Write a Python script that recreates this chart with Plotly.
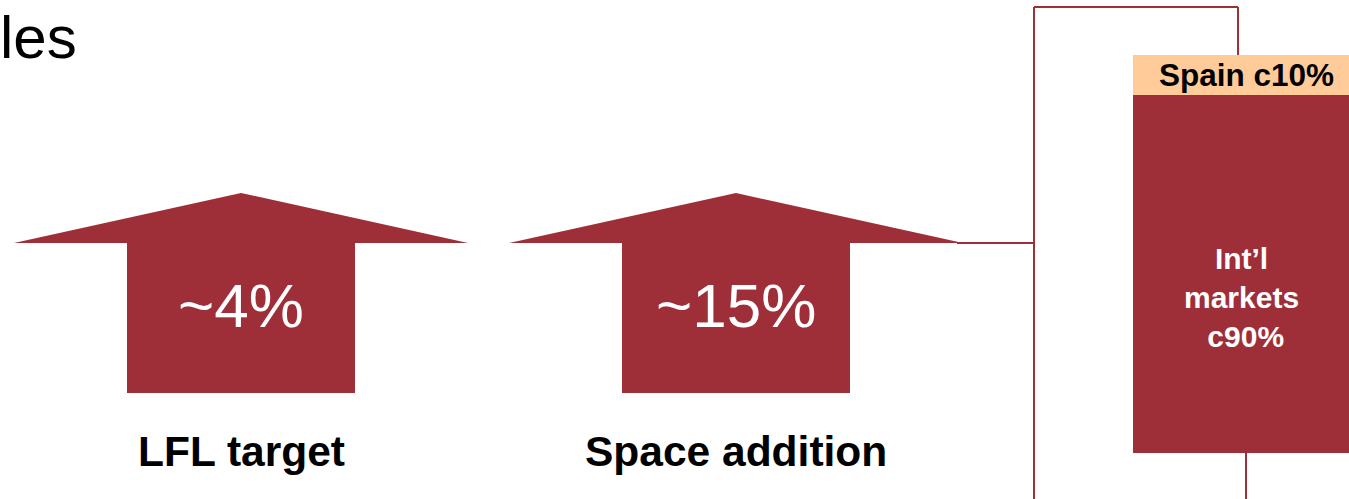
import plotly.graph_objects as go

# Growth drivers shown as up-arrows
drivers = ["LFL target", "Space addition"]
growth_labels = ["~4%", "~15%"]

# Sales split by region (stacked bar, %)
regions = ["Int'l markets", "Spain"]
region_shares = [90, 10]
region_labels = ["Int\u2019l<br>markets<br> c90%", "Spain c10%"]

heading = "les"

W, H = 1349, 499
RED = "#9E2E37"
PEACH = "#FFCC99"
FONT = "Liberation Sans, Arial, Helvetica, sans-serif"

# layout of the arrow glyphs (pixel space of the main axes)
arrow_cx = [241, 736]
head_half, shaft_half = 227, 114
tip_y, base_y, bottom_y = 193, 243, 393

fig = go.Figure()

# invisible trace so the pixel-space axes exist
fig.add_trace(go.Scatter(x=[0, W], y=[0, H], mode="markers",
                         marker=dict(opacity=0), hoverinfo="skip",
                         showlegend=False, xaxis="x", yaxis="y"))

# stacked sales-split bar
for name, share, color in zip(regions, region_shares, [RED, PEACH]):
    fig.add_trace(go.Bar(x=["Sales"], y=[share], name=name, width=1,
                         marker=dict(color=color, line=dict(width=0)),
                         hoverinfo="skip", showlegend=False,
                         xaxis="x2", yaxis="y2"))

shapes = []
annotations = []

for cx, lab, drv in zip(arrow_cx, growth_labels, drivers):
    path = (f"M{cx - head_half},{base_y} L{cx},{tip_y} L{cx + head_half},{base_y} "
            f"L{cx + shaft_half},{base_y} L{cx + shaft_half},{bottom_y} "
            f"L{cx - shaft_half},{bottom_y} L{cx - shaft_half},{base_y} Z")
    shapes.append(dict(type="path", path=path, xref="x", yref="y",
                       fillcolor=RED, line=dict(width=0), layer="above"))
    annotations.append(dict(x=cx, y=305, xref="x", yref="y", text=lab,
                            showarrow=False, xanchor="center", yanchor="middle",
                            font=dict(family=FONT, size=62, color="white")))
    annotations.append(dict(x=cx, y=451, xref="x", yref="y", text=f"<b>{drv}</b>",
                            showarrow=False, xanchor="center", yanchor="middle",
                            font=dict(family=FONT, size=42.5, color="black")))

# bracket connecting the growth arrows to the split bar
bracket = [
    (957, 243, 1034, 243),
    (1034, 7, 1034, H),
    (1034, 7, 1238, 7),
    (1238, 7, 1238, 55),
    (1246, 453, 1246, H),
]
for x0, y0, x1, y1 in bracket:
    shapes.append(dict(type="line", x0=x0, y0=y0, x1=x1, y1=y1,
                       xref="x", yref="y", line=dict(color=RED, width=2)))

# labels on the split bar
annotations.append(dict(x=0, y=95, xref="x2", yref="y2", text=f"<b>{region_labels[1]}</b>",
                        showarrow=False, xanchor="center", yanchor="middle", xshift=5,
                        font=dict(family=FONT, size=31.5, color="black")))
annotations.append(dict(x=0, y=39, xref="x2", yref="y2", text=f"<b>{region_labels[0]}</b>",
                        showarrow=False, xanchor="center", yanchor="middle", align="center",
                        font=dict(family=FONT, size=30, color="white")))

# page heading at the top-left edge
annotations.append(dict(x=-2 / W, y=1 - 38 / H, xref="paper", yref="paper", text=heading,
                        showarrow=False, xanchor="left", yanchor="middle",
                        font=dict(family=FONT, size=60, color="black")))

fig.update_layout(
    width=W, height=H,
    margin=dict(l=0, r=0, t=0, b=0),
    paper_bgcolor="white", plot_bgcolor="rgba(0,0,0,0)",
    barmode="stack", bargap=0,
    xaxis=dict(range=[0, W], visible=False, domain=[0, 1], fixedrange=True),
    yaxis=dict(range=[H, 0], visible=False, domain=[0, 1], fixedrange=True),
    xaxis2=dict(domain=[1133 / W, 1], range=[-0.5, 0.5], visible=False,
                anchor="y2", fixedrange=True),
    yaxis2=dict(domain=[1 - 453 / H, 1 - 55 / H], range=[0, 100], visible=False,
                anchor="x2", fixedrange=True),
    shapes=shapes,
    annotations=annotations,
)

fig.write_html("out.html", config={"displayModeBar": False})
